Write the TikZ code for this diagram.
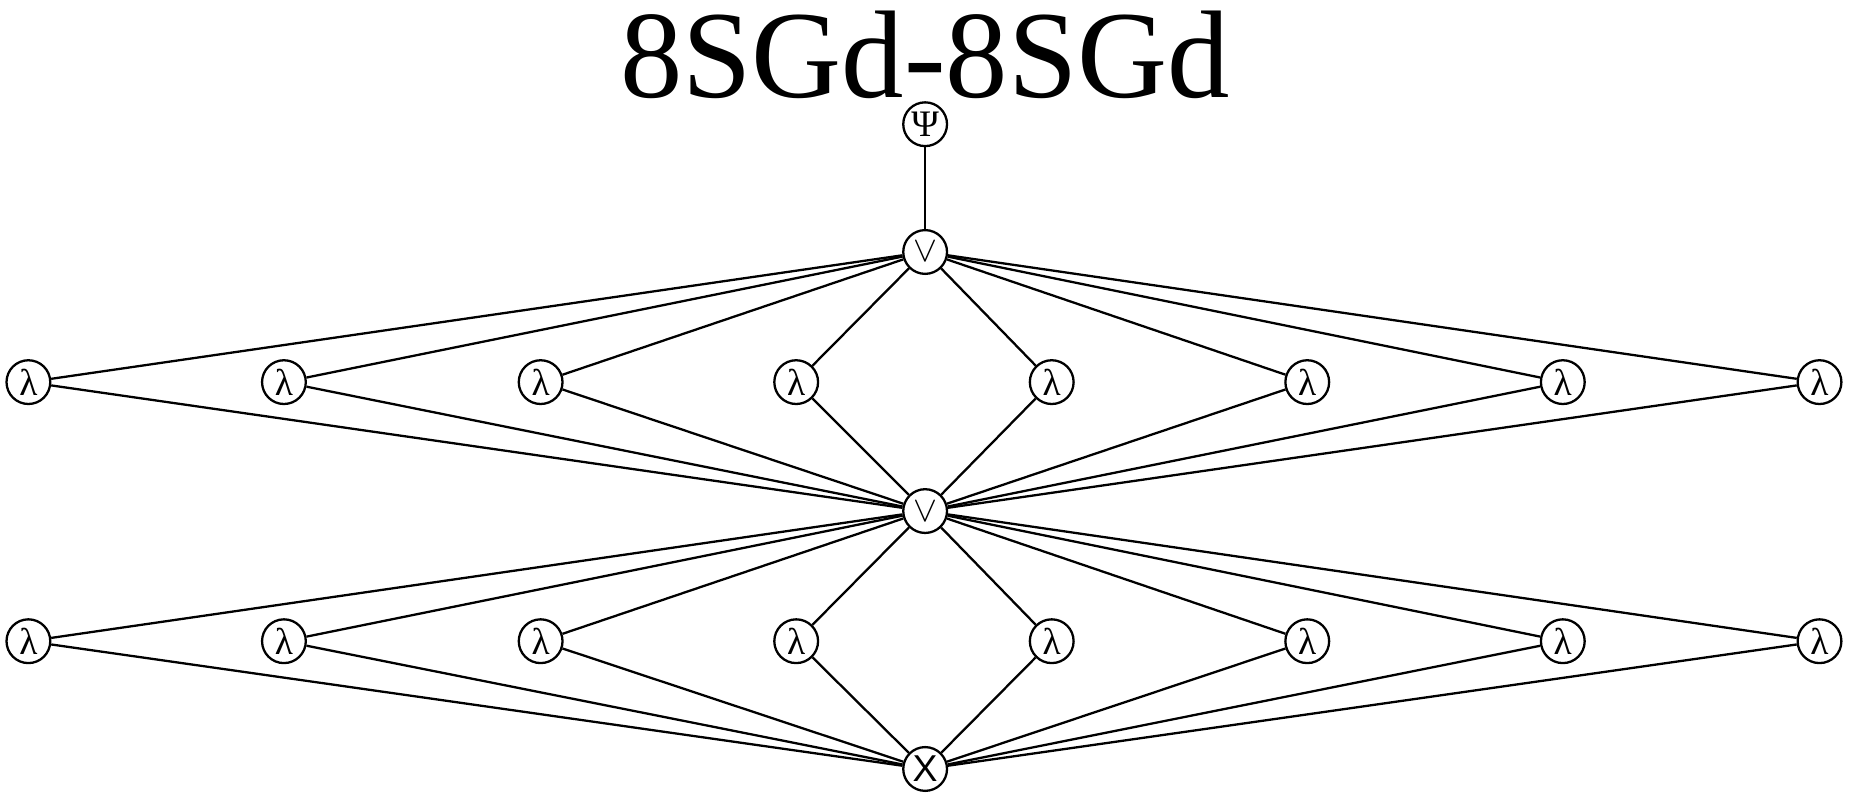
\documentclass[tikz,border=0pt]{standalone}
\usepackage{fontspec}
\setmainfont{Liberation Serif}
\begin{document}
\begin{tikzpicture}[x=0.02cm,y=-0.02cm,
  nd/.style={circle,draw,line width=1.1pt,minimum size=0.74cm,inner sep=0pt,font=\fontsize{18}{18}\selectfont,fill=white},
  ed/.style={line width=1.1pt}]
\useasboundingbox (0,0) rectangle (1568,676);
\node at (782,46) {\fontsize{60}{60}\selectfont 8SGd-8SGd};
\node[nd] (psi) at (782,105) {Ψ};
\node[nd] (o1) at (782,213) {$\vee$};
\node[nd] (o2) at (782,432) {$\vee$};
\node[nd] (x) at (782,650) {\fontspec{Liberation Sans}X};
\foreach \i/\xx in {1/24,2/240,3/457,4/673,5/889,6/1105,7/1321,8/1538}{
  \node[nd] (a\i) at (\xx,323) {λ};
  \node[nd] (b\i) at (\xx,542) {λ};
}
\draw[ed] (psi) -- (o1);
\foreach \i in {1,...,8}{
  \draw[ed] (o1) -- (a\i);
  \draw[ed] (a\i) -- (o2);
  \draw[ed] (o2) -- (b\i);
  \draw[ed] (b\i) -- (x);
}
\end{tikzpicture}
\end{document}
